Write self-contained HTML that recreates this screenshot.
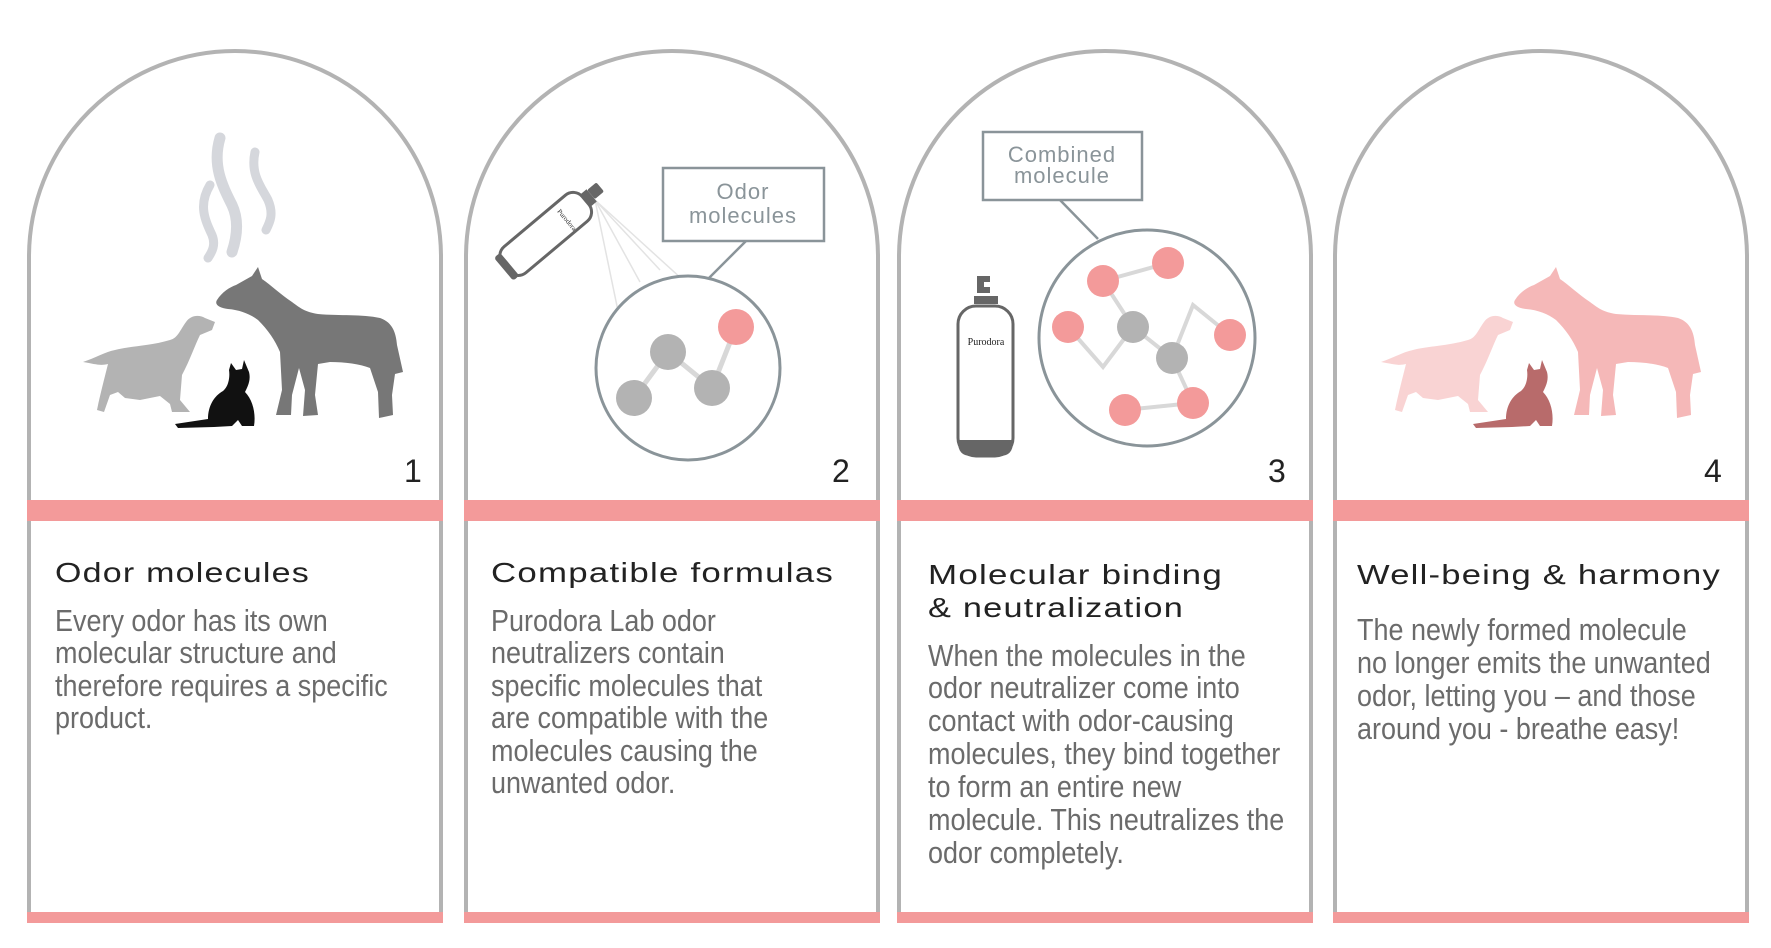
<!DOCTYPE html>
<html><head><meta charset="utf-8"><style>
html,body{margin:0;padding:0;background:#fff;}
svg{display:block;}
.t{font-family:"Liberation Sans",sans-serif;font-size:28px;fill:#222;letter-spacing:1px;}
.b{font-family:"Liberation Sans",sans-serif;font-size:31px;fill:#6b6b6b;}
.n{font-family:"Liberation Sans",sans-serif;font-size:32px;fill:#222;font-weight:300;}
.l{font-family:"Liberation Sans",sans-serif;font-size:22px;fill:#8a9499;letter-spacing:1px;}
</style></head><body>
<svg width="1771" height="948" viewBox="0 0 1771 948" xmlns="http://www.w3.org/2000/svg">
<defs>
<g id="arch">
<path d="M0 923 V257 A206 206 0 0 1 412 257 V923" fill="none" stroke="#b3b3b3" stroke-width="4"/>
<rect x="-2" y="500" width="416" height="21" fill="#f39a9a"/>
<rect x="-2" y="912" width="416" height="11" fill="#f39a9a"/>
</g>
<path id="horse" d="M217 300 C222 292 230 287 236 285 L252 276 L258 267 L262 279 C272 286 280 294 292 302 C300 308 305 312 318 314 C340 316 362 314 380 318 C392 322 396 332 397 345 L403 372 L395 374 L392 395 L393 415 L379 418 L378 392 L370 368 C360 364 345 362 330 362 L318 364 L315 395 L318 415 L303 416 L305 390 L299 368 L292 395 L291 415 L276 415 L282 390 L280 352 C275 340 268 330 258 320 C250 314 240 310 228 309 C220 308 214 305 217 300 Z"/>
<path id="dog" d="M215 322 L205 318 C198 314 190 316 186 322 C180 330 178 338 170 340 C150 346 130 346 115 350 C105 352 95 358 83 362 C95 364 100 366 108 364 C104 380 100 395 97 410 L104 412 L110 395 L118 392 L125 398 L140 400 L160 396 L170 404 L172 412 L190 412 L180 400 L182 375 C190 360 195 345 200 335 L212 330 Z"/>
<path id="cat" d="M231 363 L236 370 L242 369 L244 360 L249 372 C251 380 248 386 245 392 C253 400 256 414 254 426 L242 426 L238 420 L232 426 L214 427 L178 428 L175 424 L208 419 C208 406 214 396 223 391 C229 386 230 376 229 370 Z"/>
</defs>

<use href="#arch" x="29"/>
<use href="#arch" x="466"/>
<use href="#arch" x="899"/>
<use href="#arch" x="1335"/>

<!-- Panel 1 -->
<g fill="none" stroke="#d5d7dc" stroke-linecap="round">
<path d="M210 185 C198 205 205 220 212 235 C216 245 212 252 208 258" stroke-width="9"/>
<path d="M220 138 C212 165 222 185 232 205 C240 222 236 240 232 252" stroke-width="11"/>
<path d="M255 152 C250 175 262 188 268 200 C274 214 270 222 266 230" stroke-width="9"/>
</g>
<use href="#dog" fill="#b3b3b3"/>
<use href="#horse" fill="#777"/>
<use href="#cat" fill="#111"/>
<text class="n" x="404" y="482">1</text>

<!-- Panel 2 -->
<g stroke="#e3e3e3" stroke-width="1.5">
<line x1="595" y1="200" x2="623" y2="335"/>
<line x1="595" y1="200" x2="640" y2="282"/>
<line x1="595" y1="200" x2="660" y2="270"/>
<line x1="595" y1="200" x2="716" y2="310"/>
</g>
<g transform="translate(548,232) rotate(-40)">
<rect x="-55" y="-17" width="104" height="34" rx="12" fill="#fff" stroke="#666" stroke-width="3"/>
<rect x="-58" y="-15" width="8" height="30" rx="3" fill="#666"/>
<rect x="49" y="-8" width="8" height="16" fill="#666"/>
<rect x="57" y="-7" width="12" height="12" rx="2" fill="#666"/>
<text x="20" y="-10" font-family="Liberation Serif,serif" font-size="7" fill="#333" transform="rotate(90 20 -10)">Purodora</text>
</g>
<rect x="663" y="168" width="161" height="73" fill="#fff" stroke="#8a9499" stroke-width="2.5"/>
<text class="l" x="743" y="199" text-anchor="middle">Odor</text>
<text class="l" x="743" y="223" text-anchor="middle">molecules</text>
<line x1="746" y1="241" x2="707" y2="280" stroke="#8a9499" stroke-width="2.5"/>
<circle cx="688" cy="368" r="92" fill="#fff" stroke="#8a9499" stroke-width="3"/>
<g stroke="#d8d8d8" stroke-width="5">
<line x1="634" y1="398" x2="668" y2="352"/><line x1="668" y1="352" x2="712" y2="388"/><line x1="712" y1="388" x2="736" y2="327"/>
</g>
<circle cx="668" cy="352" r="18" fill="#b3b3b3"/>
<circle cx="634" cy="398" r="18" fill="#b3b3b3"/>
<circle cx="712" cy="388" r="18" fill="#b3b3b3"/>
<circle cx="736" cy="327" r="18" fill="#f39a9a"/>
<text class="n" x="832" y="482">2</text>

<!-- Panel 3 -->
<rect x="958" y="306" width="55" height="150" rx="18" fill="#fff" stroke="#666" stroke-width="3"/>
<path d="M958 440 H1013 V442 Q1013 456 1000 456 H971 Q958 456 958 442 Z" fill="#666"/>
<rect x="974" y="296" width="24" height="8" fill="#666"/>
<path d="M977 276 H990 V282 H984 V287 H990 V293 H977 Z" fill="#666"/>
<text x="986" y="345" text-anchor="middle" font-family="Liberation Serif,serif" font-size="10" fill="#222">Purodora</text>
<rect x="983" y="132" width="159" height="68" fill="#fff" stroke="#8a9499" stroke-width="2.5"/>
<text class="l" x="1062" y="162" text-anchor="middle">Combined</text>
<text class="l" x="1062" y="183" text-anchor="middle">molecule</text>
<line x1="1060" y1="200" x2="1098" y2="239" stroke="#8a9499" stroke-width="2.5"/>
<circle cx="1147" cy="338" r="108" fill="#fff" stroke="#8a9499" stroke-width="3"/>
<g stroke="#d8d8d8" stroke-width="4" fill="none">
<line x1="1103" y1="281" x2="1168" y2="263"/>
<line x1="1103" y1="281" x2="1133" y2="327"/>
<polyline points="1068,327 1103,367 1133,327"/>
<line x1="1133" y1="327" x2="1172" y2="358"/>
<polyline points="1172,358 1193,305 1230,335"/>
<line x1="1172" y1="358" x2="1193" y2="403"/>
<line x1="1125" y1="410" x2="1193" y2="403"/>
</g>
<circle cx="1103" cy="281" r="16" fill="#f39a9a"/>
<circle cx="1168" cy="263" r="16" fill="#f39a9a"/>
<circle cx="1068" cy="327" r="16" fill="#f39a9a"/>
<circle cx="1230" cy="335" r="16" fill="#f39a9a"/>
<circle cx="1125" cy="410" r="16" fill="#f39a9a"/>
<circle cx="1193" cy="403" r="16" fill="#f39a9a"/>
<circle cx="1133" cy="327" r="16" fill="#b3b3b3"/>
<circle cx="1172" cy="358" r="16" fill="#b3b3b3"/>
<text class="n" x="1268" y="482">3</text>

<!-- Panel 4 -->
<g transform="translate(1298,0)">
<use href="#dog" fill="#f9d3d3"/>
<use href="#horse" fill="#f5b8b8"/>
<use href="#cat" fill="#b86b6b"/>
</g>
<text class="n" x="1704" y="482">4</text>

<!-- Text -->
<text class="t" x="55" y="582" textLength="255" lengthAdjust="spacingAndGlyphs">Odor molecules</text>
<g transform="translate(55,0) scale(0.87,1)">
<text class="b" x="0" y="631">Every odor has its own</text>
<text class="b" x="0" y="663">molecular structure and</text>
<text class="b" x="0" y="696">therefore requires a specific</text>
<text class="b" x="0" y="728">product.</text>
</g>

<text class="t" x="491" y="582" textLength="343" lengthAdjust="spacingAndGlyphs">Compatible formulas</text>
<g transform="translate(491,0) scale(0.87,1)">
<text class="b" x="0" y="631">Purodora Lab odor</text>
<text class="b" x="0" y="663">neutralizers contain</text>
<text class="b" x="0" y="696">specific molecules that</text>
<text class="b" x="0" y="728">are compatible with the</text>
<text class="b" x="0" y="761">molecules causing the</text>
<text class="b" x="0" y="793">unwanted odor.</text>
</g>

<text class="t" x="928" y="584" textLength="295" lengthAdjust="spacingAndGlyphs">Molecular binding</text>
<text class="t" x="928" y="617" textLength="256" lengthAdjust="spacingAndGlyphs">&amp; neutralization</text>
<g transform="translate(928,0) scale(0.87,1)">
<text class="b" x="0" y="666">When the molecules in the</text>
<text class="b" x="0" y="698">odor neutralizer come into</text>
<text class="b" x="0" y="731">contact with odor-causing</text>
<text class="b" x="0" y="764">molecules, they bind together</text>
<text class="b" x="0" y="797">to form an entire new</text>
<text class="b" x="0" y="830">molecule. This neutralizes the</text>
<text class="b" x="0" y="863">odor completely.</text>
</g>

<text class="t" x="1357" y="584" textLength="364" lengthAdjust="spacingAndGlyphs">Well-being &amp; harmony</text>
<g transform="translate(1357,0) scale(0.87,1)">
<text class="b" x="0" y="640">The newly formed molecule</text>
<text class="b" x="0" y="673">no longer emits the unwanted</text>
<text class="b" x="0" y="706">odor, letting you – and those</text>
<text class="b" x="0" y="739">around you - breathe easy!</text>
</g>
</svg>
</body></html>
